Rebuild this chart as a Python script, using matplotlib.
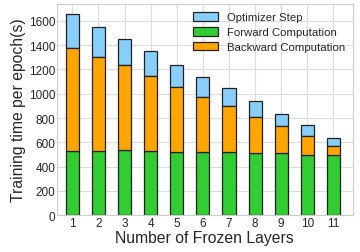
import matplotlib.pyplot as plt
import numpy as np

layers = ["1", "2", "3", "4", "5", "6", "7", "8", "9", "10", "11"]
forward = [525, 525, 533, 525, 517, 517, 517, 509, 509, 500, 492]
backward_top = [1376, 1305, 1234, 1149, 1053, 976, 900, 812, 738, 651, 569]
total = [1652, 1551, 1450, 1348, 1234, 1140, 1045, 938, 837, 741, 635]

backward = [b - f for b, f in zip(backward_top, forward)]
optimizer = [t - b for t, b in zip(total, backward_top)]

plt.style.use("seaborn-v0_8-whitegrid")
plt.rcParams['font.family'] = ['Liberation Sans', 'DejaVu Sans']

fig = plt.figure(figsize=[3.6, 2.53], dpi=100)
ax = fig.add_axes([0.158, 0.145, 0.822, 0.835])

x = np.arange(1, len(layers) + 1)
w = 0.5
edge = dict(edgecolor="#222222", linewidth=0.9)
p_opt = ax.bar(x, optimizer, w, bottom=backward_top, color="#87CEFA", label="Optimizer Step", **edge)
p_fwd = ax.bar(x, forward, w, color="#32CD32", label="Forward Computation", **edge)
p_bwd = ax.bar(x, backward, w, bottom=forward, color="#FFA500", label="Backward Computation", **edge)

ax.set_xlim(0.41, 11.74)
ax.set_ylim(0, 1737)
ax.set_xticks(x)
ax.set_xticklabels(layers)
ax.set_yticks(range(0, 1601, 200))
ax.tick_params(labelsize=8.5, pad=1, length=0)
ax.set_xlabel("Number of Frozen Layers", fontsize=11.3, labelpad=1)
ax.set_ylabel("Training time per epoch(s)", fontsize=11.3, labelpad=2)
ax.grid(True, color="#dddddd", linewidth=0.8)
ax.set_axisbelow(True)
for s in ax.spines.values():
  s.set_visible(True)
  s.set_color("#cccccc")
  s.set_linewidth(0.8)

ax.legend(handles=[p_opt, p_fwd, p_bwd], loc="upper right", fontsize=8.2, frameon=False,
          handlelength=2.2, handleheight=0.8, labelspacing=0.4, borderaxespad=0.3)

fig.savefig("out.png", dpi=100)
